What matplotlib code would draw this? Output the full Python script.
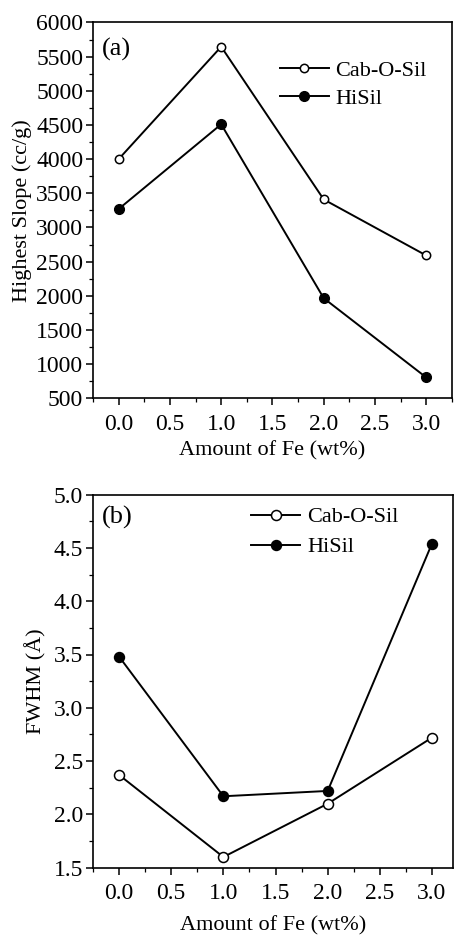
import matplotlib
matplotlib.use("Agg")
import matplotlib.pyplot as plt
from matplotlib.ticker import MultipleLocator, FormatStrFormatter

plt.rcParams['font.family'] = ['Liberation Serif', 'DejaVu Serif']

fe = [0.0, 1.0, 2.0, 3.0]
slope_cab = [4000, 5645, 3410, 2590]
slope_hisil = [3270, 4510, 1965, 805]
fwhm_cab = [2.37, 1.60, 2.10, 2.72]
fwhm_hisil = [3.48, 2.17, 2.22, 4.54]

fig = plt.figure(figsize=(4.56, 9.35), dpi=100)
ax1 = fig.add_axes([0.204, 0.574, 0.787, 0.402])
ax2 = fig.add_axes([0.204, 0.072, 0.789, 0.399])

TICK_FS = 17
LABEL_FS = 16

def style(ax):
    ax.tick_params(axis='both', which='major', direction='out', length=5, width=1.1, labelsize=TICK_FS)
    ax.tick_params(axis='y', which='major', pad=2)
    ax.tick_params(axis='x', which='major', pad=6)
    ax.tick_params(axis='both', which='minor', direction='out', length=3, width=0.9)
    for s in ax.spines.values():
        s.set_linewidth(1.2)

# Panel (a)
ax1.plot(fe, slope_cab, '-', color='black', lw=1.4, marker='o', ms=6, mfc='white', mec='black', mew=1.1, label='Cab-O-Sil')
ax1.plot(fe, slope_hisil, '-', color='black', lw=1.4, marker='o', ms=7, mfc='black', mec='black', label='HiSil')
ax1.set_xlim(-0.25, 3.25)
ax1.set_ylim(500, 6000)
ax1.xaxis.set_major_locator(MultipleLocator(0.5))
ax1.xaxis.set_minor_locator(MultipleLocator(0.25))
ax1.yaxis.set_major_locator(MultipleLocator(500))
ax1.yaxis.set_minor_locator(MultipleLocator(250))
ax1.xaxis.set_major_formatter(FormatStrFormatter('%.1f'))
ax1.set_xlabel('Amount of Fe (wt%)', fontsize=LABEL_FS, labelpad=5)
ax1.set_ylabel('Highest Slope (cc/g)', fontsize=LABEL_FS, labelpad=3)
ax1.text(0.025, 0.96, '(a)', transform=ax1.transAxes, fontsize=19, va='top', ha='left')
style(ax1)
ax1.legend(loc='upper left', bbox_to_anchor=(0.52, 0.90), frameon=False, fontsize=LABEL_FS,
           handlelength=2.2, handletextpad=0.3, labelspacing=0.35, borderaxespad=0, borderpad=0)

# Panel (b)
ax2.plot(fe, fwhm_cab, '-', color='black', lw=1.4, marker='o', ms=7.2, mfc='white', mec='black', mew=1.1, label='Cab-O-Sil')
ax2.plot(fe, fwhm_hisil, '-', color='black', lw=1.4, marker='o', ms=7.2, mfc='black', mec='black', label='HiSil')
ax2.set_xlim(-0.25, 3.2)
ax2.set_ylim(1.5, 5.0)
ax2.xaxis.set_major_locator(MultipleLocator(0.5))
ax2.xaxis.set_minor_locator(MultipleLocator(0.25))
ax2.yaxis.set_major_locator(MultipleLocator(0.5))
ax2.yaxis.set_minor_locator(MultipleLocator(0.25))
ax2.xaxis.set_major_formatter(FormatStrFormatter('%.1f'))
ax2.yaxis.set_major_formatter(FormatStrFormatter('%.1f'))
ax2.set_xlabel('Amount of Fe (wt%)', fontsize=LABEL_FS, labelpad=9)
ax2.set_ylabel('FWHM (Å)', fontsize=LABEL_FS, labelpad=5)
ax2.text(0.025, 0.97, '(b)', transform=ax2.transAxes, fontsize=19, va='top', ha='left')
style(ax2)
ax2.legend(loc='upper left', bbox_to_anchor=(0.44, 0.967), frameon=False, fontsize=LABEL_FS,
           handlelength=2.2, handletextpad=0.3, labelspacing=0.42, borderaxespad=0, borderpad=0)

fig.savefig('out.png', dpi=100)
